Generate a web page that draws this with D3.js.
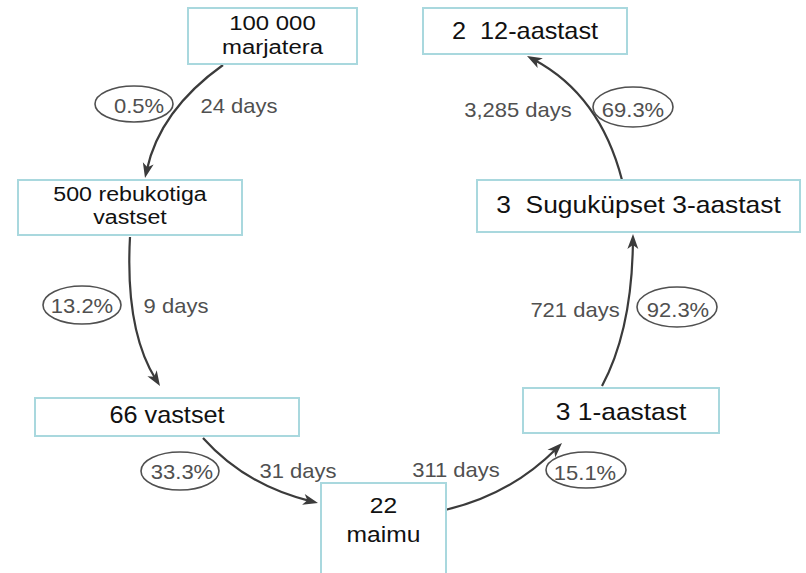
<!DOCTYPE html>
<html><head><meta charset="utf-8">
<script src="https://cdn.jsdelivr.net/npm/d3@7"></script>
<style>html,body{margin:0;padding:0;background:#fff}svg{display:block}text{white-space:pre}</style>
</head><body>
<script>
// ---- data ----
const stageLines = [
  ["100 000", "marjatera"],
  ["500 rebukotiga", "vastset"],
  ["66 vastset"],
  ["22", "maimu"],
  ["3 1-aastast"],
  ["3  Suguküpset 3-aastast"],
  ["2  12-aastast"]
];
const durationDays = [24, 9, 31, 311, 721, 3285];
const survivalPct = [0.5, 13.2, 33.3, 15.1, 92.3, 69.3];

// ---- layout (diagram geometry) ----
const boxes = [
  {x0:188, y0:8,   x1:357, y1:64,  size:21, sx:1.14, base:[30,54]},
  {x0:18,  y0:180, x1:242, y1:235, size:20, sx:1.16, base:[201,224]},
  {x0:35,  y0:398, x1:299, y1:436, size:23, sx:1.1,  base:[423]},
  {x0:321, y0:483, x1:446, y1:580, size:22, sx:1.12, base:[513,542]},
  {x0:523, y0:388, x1:719, y1:433, size:24, sx:1.1,  base:[420]},
  {x0:477, y0:180, x1:800, y1:232, size:24, sx:1.1,  base:[213]},
  {x0:423, y0:8,   x1:627, y1:54,  size:23, sx:1.1,  base:[39]}
];
const arrows = [
  {p0:[223,65],  c:[160,110], p1:[145,178]},
  {p0:[130,237], c:[125,330], p1:[160,386]},
  {p0:[203,438], c:[245,485], p1:[318,503]},
  {p0:[445,510], c:[510,495], p1:[562,443]},
  {p0:[602,386], c:[632,330], p1:[633,234]},
  {p0:[622,180], c:[600,95],  p1:[527,56]}
];
const dayLabels = [[239,113],[176,313],[298,478],[456,477],[575,317],[518,117]];
const pctLabels = [
  {cx:134, cy:104, rx:39, ry:18, tx:139, ty:113},
  {cx:82,  cy:305, rx:39, ry:19, tx:82,  ty:313},
  {cx:180, cy:471, rx:39, ry:19, tx:182, ty:479},
  {cx:586, cy:470, rx:40, ry:18, tx:585, ty:480},
  {cx:677, cy:307, rx:40, ry:20, tx:678, ty:317},
  {cx:633, cy:107, rx:40, ry:20, tx:633, ty:117}
];

const W = 806, H = 573, SX = 1.1;
const fmtDays = d3.format(",");
const fmtPct = d3.format(".1f");

const svg = d3.select("body").append("svg").attr("width", W).attr("height", H)
  .style("font-family", "'Liberation Sans', Arial, Helvetica, sans-serif");

// arrows
const ag = svg.append("g");
arrows.forEach(a => {
  const p = d3.path();
  p.moveTo(a.p0[0], a.p0[1]);
  const dx = a.p1[0]-a.c[0], dy = a.p1[1]-a.c[1], L = Math.hypot(dx,dy);
  const ux = dx/L, uy = dy/L;
  const ex = a.p1[0]-ux*8, ey = a.p1[1]-uy*8;
  p.quadraticCurveTo(a.c[0], a.c[1], ex, ey);
  ag.append("path").attr("d", p.toString()).attr("fill","none")
    .attr("stroke","#3b3b3b").attr("stroke-width",2.2);
  const len = 15, hw = 5.5, nx = -uy, ny = ux;
  const bx = a.p1[0]-ux*len, by = a.p1[1]-uy*len;
  const nxp = a.p1[0]-ux*(len-4), nyp = a.p1[1]-uy*(len-4);
  ag.append("path")
    .attr("d", `M${a.p1[0]},${a.p1[1]}L${bx+nx*hw},${by+ny*hw}L${nxp},${nyp}L${bx-nx*hw},${by-ny*hw}Z`)
    .attr("fill","#3b3b3b");
});

// boxes
const bg = svg.selectAll("g.box").data(boxes).join("g").attr("class","box");
bg.append("rect")
  .attr("x", d=>d.x0).attr("y", d=>d.y0)
  .attr("width", d=>d.x1-d.x0).attr("height", d=>d.y1-d.y0)
  .attr("fill","#fff").attr("stroke","#a9d8de").attr("stroke-width",2);
bg.each(function(d,i){
  const t = d3.select(this).append("text")
    .attr("transform", `translate(${(d.x0+d.x1)/2},${d.base[0]}) scale(${d.sx},1)`)
    .attr("text-anchor","middle").attr("font-size", d.size)
    .attr("fill","#111").attr("xml:space","preserve");
  stageLines[i].forEach((line,j) => {
    t.append("tspan").attr("x",0).attr("y", d.base[j]-d.base[0]).text(line);
  });
});

// duration labels
svg.selectAll("text.days").data(durationDays).join("text").attr("class","days")
  .attr("transform", (d,i)=>`translate(${dayLabels[i][0]},${dayLabels[i][1]}) scale(${SX},1)`)
  .attr("text-anchor","middle").attr("font-size",20).attr("fill","#505050")
  .text(d => fmtDays(d) + " days");

// survival labels
const pg = svg.selectAll("g.pct").data(survivalPct).join("g").attr("class","pct");
pg.append("ellipse")
  .attr("cx",(d,i)=>pctLabels[i].cx).attr("cy",(d,i)=>pctLabels[i].cy)
  .attr("rx",(d,i)=>pctLabels[i].rx).attr("ry",(d,i)=>pctLabels[i].ry)
  .attr("fill","none").attr("stroke","#505050").attr("stroke-width",1.6);
pg.append("text")
  .attr("transform",(d,i)=>`translate(${pctLabels[i].tx},${pctLabels[i].ty}) scale(${SX},1)`)
  .attr("text-anchor","middle").attr("font-size",20).attr("fill","#505050")
  .text(d => fmtPct(d) + "%");
</script>
</body></html>
